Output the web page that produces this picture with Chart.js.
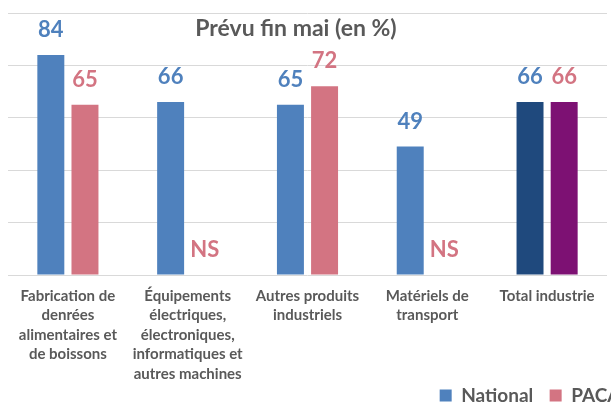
<!DOCTYPE html>
<html>
<head>
<meta charset="utf-8">
<script src="https://cdn.jsdelivr.net/npm/chart.js@4/dist/chart.umd.min.js"></script>
<style>
    html, body { margin: 0; padding: 0; background: #fff; overflow: hidden; }
    #wrap { position: relative; width: 623px; height: 415px; }
</style>
</head>
<body>
<div id="wrap"><canvas id="chart"></canvas></div>
<script>
// Data
const categories = [
    ["Fabrication de", "denrées", "alimentaires et", "de boissons"],
    ["Équipements", "électriques,", "électroniques,", "informatiques et", "autres machines"],
    ["Autres produits", "industriels"],
    ["Matériels de", "transport"],
    ["Total industrie"]
];
const nationalValues = [84, 66, 65, 49, 66];
const pacaValues = [65, null, 72, null, 66];
const yTicks = [0, 20, 40, 60, 80, 100];
const chartTitle = "Prévu fin mai (en %)";

const blue = "#4F81BD";
const pink = "#D37482";
const darkBlue = "#1F497D";
const purple = "#7D1173";
const grey = "#595959";

// Value labels above the bars, "NS" where no value
const valueLabels = {
    id: "valueLabels",
    afterDatasetsDraw(chart) {
        const ctx = chart.ctx;
        const yScale = chart.scales.y;
        ctx.save();
        ctx.font = "bold 22px Lato";
        ctx.textAlign = "center";
        ctx.textBaseline = "middle";
        chart.data.datasets.forEach((ds, di) => {
            const meta = chart.getDatasetMeta(di);
            meta.data.forEach((bar, i) => {
                const v = ds.data[i];
                const top = v == null ? yScale.getPixelForValue(0) : bar.y;
                ctx.fillStyle = ds.labelColor;
                ctx.fillText(v == null ? "NS" : String(v), bar.x, top - 25);
            });
        });
        ctx.restore();
    }
};

// Title drawn inside the plot area
const innerTitle = {
    id: "innerTitle",
    afterDraw(chart) {
        const ctx = chart.ctx;
        ctx.save();
        ctx.font = "bold 23px Lato";
        ctx.fillStyle = grey;
        ctx.textAlign = "center";
        ctx.textBaseline = "middle";
        ctx.fillText(chartTitle, 296, 29);
        ctx.restore();
    }
};

new Chart(document.getElementById("chart"), {
    type: "bar",
    data: {
        labels: categories,
        datasets: [
            {
                label: "National",
                data: nationalValues,
                backgroundColor: [blue, blue, blue, blue, darkBlue],
                labelColor: blue,
                categoryPercentage: 0.57,
                barPercentage: 0.79,
            },
            {
                label: "PACA",
                data: pacaValues,
                backgroundColor: [pink, pink, pink, pink, purple],
                labelColor: pink,
                categoryPercentage: 0.57,
                barPercentage: 0.79,
            },
        ],
    },
    options: {
        responsive: true,
        maintainAspectRatio: false,
        animation: false,
        layout: { padding: { top: 13, left: 0, right: 0, bottom: 0 } },
        plugins: {
            title: { display: false },
            tooltip: { enabled: false },
            legend: {
                position: "bottom",
                align: "end",
                labels: {
                    color: grey,
                    font: { family: "Lato", size: 19, weight: "bold" },
                    boxWidth: 12,
                    boxHeight: 12,
                    padding: 2.5,
                    generateLabels(chart) {
                        // a little extra room after the first entry
                        const items = Chart.defaults.plugins.legend.labels.generateLabels(chart);
                        items[0].text += "   ";
                        return items;
                    },
                },
            },
        },
        scales: {
            x: {
                afterFit(scale) {
                    scale.height = 108.5;
                },
                grid: { display: false, drawTicks: false },
                border: { display: false },
                ticks: {
                    color: grey,
                    padding: 11,
                    maxRotation: 0,
                    autoSkip: false,
                    font: { family: "Lato", size: 15, weight: "bold", lineHeight: 1.3 },
                },
            },
            y: {
                min: 0,
                max: 100,
                afterBuildTicks(scale) {
                    scale.ticks = yTicks.map((v) => ({ value: v }));
                },
                afterFit(scale) {
                    scale.width = 8;
                },
                grid: { color: "#D9D9D9", lineWidth: 1, drawTicks: false },
                border: { display: false },
                ticks: { display: false },
            },
            y2: {
                position: "right",
                display: true,
                afterFit(scale) {
                    scale.width = 16;
                },
                grid: { display: false, drawTicks: false },
                border: { display: false },
                ticks: { display: false },
            },
        },
    },
    plugins: [valueLabels, innerTitle],
});
</script>
</body>
</html>
